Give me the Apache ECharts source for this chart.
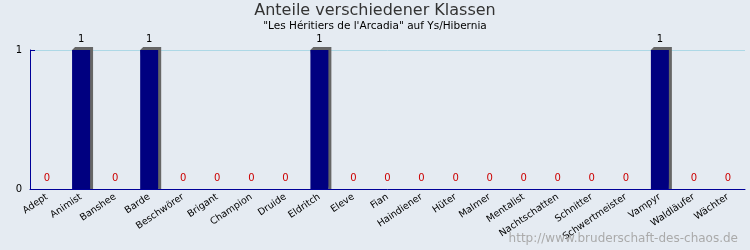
<!DOCTYPE html>
<html><head><meta charset="utf-8">
<script src="https://cdn.jsdelivr.net/npm/echarts@6/dist/echarts.min.js"></script>
<style>html,body{margin:0;padding:0;background:#E5EBF2;}#c{width:750px;height:250px;}</style>
</head><body><div id="c"></div>
<script>
var categories = ["Adept","Animist","Banshee","Barde","Beschwörer","Brigant","Champion","Druide","Eldritch","Eleve","Fian","Haindiener","Hüter","Malmer","Mentalist","Nachtschatten","Schnitter","Schwertmeister","Vampyr","Waldläufer","Wächter"];
var values = [0,1,0,1,0,0,0,0,1,0,0,0,0,0,0,0,0,0,1,0,0];
var yTicks = [0,1];

var chart = echarts.init(document.getElementById('c'), null, {renderer:'canvas'});
var data = values.map(function(v){
  return {value:v, label:{color: v===0 ? '#CC0000' : '#000000', distance: 6}};
});
var BW = 18, OFF = 3;
chart.setOption({
  backgroundColor:'#E5EBF2',
  animation:false,
  title:[{text:'Anteile verschiedener Klassen', left:'center', top:-2,
    textStyle:{fontFamily:'DejaVu Sans', fontSize:16, fontWeight:'normal', color:'#333333'}},
    {text:'"Les Héritiers de l\'Arcadia" auf Ys/Hibernia', left:'center', top:16,
    textStyle:{fontFamily:'DejaVu Sans', fontSize:10.5, fontWeight:'normal', color:'#000000'}},
    {text:'http://www.bruderschaft-des-chaos.de', right:7, bottom:0,
    textStyle:{fontFamily:'DejaVu Sans', fontSize:12, fontWeight:'normal', color:'#AAAAAA'}}],
  grid:{left:30, right:5, top:50, bottom:61},
  xAxis:{type:'category', data:categories,
    axisLine:{lineStyle:{color:'#000099', width:1}},
    axisTick:{inside:true, length:4, lineStyle:{color:'#000099'}},
    axisLabel:{rotate:34, fontFamily:'DejaVu Sans', fontSize:9.5, color:'#000', margin:7, interval:0}},
  yAxis:{type:'value', min:yTicks[0], max:yTicks[1], interval:1,
    axisLine:{show:true, lineStyle:{color:'#000099'}},
    axisTick:{show:true, inside:true, length:5, lineStyle:{color:'#000099'}},
    axisLabel:{fontFamily:'DejaVu Sans', fontSize:10, color:'#000', margin:8},
    splitLine:{lineStyle:{color:'#ADD8E6'}}},
  series:[
    {type:'custom', z:1, data:values.map(function(v,i){return [i,v];}),
     renderItem:function(params, api){
       var v = api.value(1);
       if (!v) return null;
       var top = api.coord([api.value(0), v]);
       var bot = api.coord([api.value(0), 0]);
       var l = top[0] - BW/2, r = top[0] + BW/2;
       return {type:'polygon', shape:{points:[[l, top[1]],[l+OFF, top[1]-OFF],[r+OFF, top[1]-OFF],[r+OFF, bot[1]],[r, bot[1]]]},
         style:{fill:'#666666'}};
     }},
    {type:'bar', z:2, data:data, barWidth:BW,
    itemStyle:{color:'#000080'},
    label:{show:true, position:'top', fontFamily:'DejaVu Sans', fontSize:10}}]
});
</script></body></html>
